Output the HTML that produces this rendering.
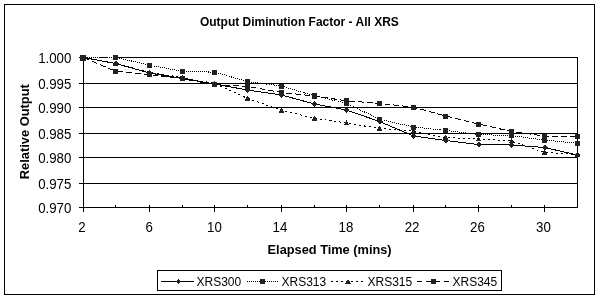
<!DOCTYPE html>
<html><head><meta charset="utf-8"><style>
html,body{margin:0;padding:0;background:#fff;}
svg{display:block;filter:grayscale(1);}
text{font-family:"Liberation Sans",sans-serif;fill:#000;}
.tk{font-size:14px;}
.lg{font-size:12px;}
.ttl{font-size:12px;font-weight:bold;}
.ax{font-size:13.33px;font-weight:bold;}
</style></head><body>
<svg width="600" height="299" viewBox="0 0 600 299">
<rect x="0" y="0" width="600" height="299" fill="#fff"/>
<rect x="4.5" y="4.5" width="590" height="290" fill="none" stroke="#000" stroke-width="1"/>
<g stroke="#000" stroke-width="1" shape-rendering="crispEdges">
<line x1="83" y1="57.5" x2="578" y2="57.5"/>
<line x1="83" y1="83.5" x2="578" y2="83.5"/>
<line x1="83" y1="107.5" x2="578" y2="107.5"/>
<line x1="83" y1="133.5" x2="578" y2="133.5"/>
<line x1="83" y1="157.5" x2="578" y2="157.5"/>
<line x1="83" y1="183.5" x2="578" y2="183.5"/>
<line x1="79" y1="207.5" x2="578" y2="207.5"/>
<line x1="83.5" y1="57" x2="83.5" y2="212"/>
<line x1="577.5" y1="57" x2="577.5" y2="208"/>
<line x1="79" y1="57.5" x2="83" y2="57.5"/>
<line x1="79" y1="83.5" x2="83" y2="83.5"/>
<line x1="79" y1="107.5" x2="83" y2="107.5"/>
<line x1="79" y1="133.5" x2="83" y2="133.5"/>
<line x1="79" y1="157.5" x2="83" y2="157.5"/>
<line x1="79" y1="183.5" x2="83" y2="183.5"/>
<line x1="83.5" y1="205" x2="83.5" y2="212"/>
<line x1="115.5" y1="205" x2="115.5" y2="207"/>
<line x1="149.5" y1="205" x2="149.5" y2="212"/>
<line x1="182.5" y1="205" x2="182.5" y2="207"/>
<line x1="214.5" y1="205" x2="214.5" y2="212"/>
<line x1="247.5" y1="205" x2="247.5" y2="207"/>
<line x1="281.5" y1="205" x2="281.5" y2="212"/>
<line x1="314.5" y1="205" x2="314.5" y2="207"/>
<line x1="346.5" y1="205" x2="346.5" y2="212"/>
<line x1="379.5" y1="205" x2="379.5" y2="207"/>
<line x1="413.5" y1="205" x2="413.5" y2="212"/>
<line x1="445.5" y1="205" x2="445.5" y2="207"/>
<line x1="478.5" y1="205" x2="478.5" y2="212"/>
<line x1="511.5" y1="205" x2="511.5" y2="207"/>
<line x1="544.5" y1="205" x2="544.5" y2="212"/>
<line x1="577.5" y1="205" x2="577.5" y2="207"/>
<rect x="86" y="57" width="13" height="1" fill="#fff" stroke="none"/><rect x="107" y="57" width="6" height="1" fill="#fff" stroke="none"/>
</g>
<g shape-rendering="crispEdges">
<rect x="80" y="55" width="6" height="6" fill="#222"/>
<polyline points="83.5,57.5 115.5,63.5 149.5,73.0 182.5,78.5 214.5,84.0 247.5,90.0 281.5,95.0 314.5,104.0 346.5,110.0 379.5,121.5 413.5,136.0 445.5,140.5 478.5,144.5 511.5,145.0 544.5,147.5 577.5,155.0" fill="none" stroke="#000" stroke-width="1"/>
<path d="M83.5,54.5 L86.5,57.5 L83.5,60.5 L80.5,57.5 Z" fill="#222"/>
<path d="M115.5,60.5 L118.5,63.5 L115.5,66.5 L112.5,63.5 Z" fill="#222"/>
<path d="M149.5,70 L152.5,73 L149.5,76 L146.5,73 Z" fill="#222"/>
<path d="M182.5,75.5 L185.5,78.5 L182.5,81.5 L179.5,78.5 Z" fill="#222"/>
<path d="M214.5,81 L217.5,84 L214.5,87 L211.5,84 Z" fill="#222"/>
<path d="M247.5,87 L250.5,90 L247.5,93 L244.5,90 Z" fill="#222"/>
<path d="M281.5,92 L284.5,95 L281.5,98 L278.5,95 Z" fill="#222"/>
<path d="M314.5,101 L317.5,104 L314.5,107 L311.5,104 Z" fill="#222"/>
<path d="M346.5,107 L349.5,110 L346.5,113 L343.5,110 Z" fill="#222"/>
<path d="M379.5,118.5 L382.5,121.5 L379.5,124.5 L376.5,121.5 Z" fill="#222"/>
<path d="M413.5,133 L416.5,136 L413.5,139 L410.5,136 Z" fill="#222"/>
<path d="M445.5,137.5 L448.5,140.5 L445.5,143.5 L442.5,140.5 Z" fill="#222"/>
<path d="M478.5,141.5 L481.5,144.5 L478.5,147.5 L475.5,144.5 Z" fill="#222"/>
<path d="M511.5,142 L514.5,145 L511.5,148 L508.5,145 Z" fill="#222"/>
<path d="M544.5,144.5 L547.5,147.5 L544.5,150.5 L541.5,147.5 Z" fill="#222"/>
<path d="M577.5,152 L580.5,155 L577.5,158 L574.5,155 Z" fill="#222"/>
<polyline points="83.5,57.5 115.5,57.2 149.5,65.3 182.5,71.2 214.5,72.2 247.5,81.5 281.5,86.0 314.5,95.8 346.5,103.3 379.5,119.2 413.5,127.0 445.5,130.4 478.5,134.5 511.5,135.7 544.5,140.0 577.5,143.3" fill="none" stroke="#000" stroke-width="1" stroke-dasharray="1,1"/>
<rect x="81.0" y="55.0" width="5" height="5" fill="#222"/>
<rect x="113.0" y="54.7" width="5" height="5" fill="#222"/>
<rect x="147.0" y="62.8" width="5" height="5" fill="#222"/>
<rect x="180.0" y="68.7" width="5" height="5" fill="#222"/>
<rect x="212.0" y="69.7" width="5" height="5" fill="#222"/>
<rect x="245.0" y="79.0" width="5" height="5" fill="#222"/>
<rect x="279.0" y="83.5" width="5" height="5" fill="#222"/>
<rect x="312.0" y="93.3" width="5" height="5" fill="#222"/>
<rect x="344.0" y="100.8" width="5" height="5" fill="#222"/>
<rect x="377.0" y="116.7" width="5" height="5" fill="#222"/>
<rect x="411.0" y="124.5" width="5" height="5" fill="#222"/>
<rect x="443.0" y="127.9" width="5" height="5" fill="#222"/>
<rect x="476.0" y="132.0" width="5" height="5" fill="#222"/>
<rect x="509.0" y="133.2" width="5" height="5" fill="#222"/>
<rect x="542.0" y="137.5" width="5" height="5" fill="#222"/>
<rect x="575.0" y="140.8" width="5" height="5" fill="#222"/>
<polyline points="83.5,57.5 115.5,63.5 149.5,72.5 182.5,77.5 214.5,83.5 247.5,98.3 281.5,110.3 314.5,118.3 346.5,123.0 379.5,128.5 413.5,131.0 445.5,137.5 478.5,139.0 511.5,141.0 544.5,152.5 577.5,154.5" fill="none" stroke="#000" stroke-width="1" stroke-dasharray="2,3"/>
<path d="M83.5,54.75 L86.5,59.75 L80.5,59.75 Z" fill="#222"/>
<path d="M115.5,60.75 L118.5,65.75 L112.5,65.75 Z" fill="#222"/>
<path d="M149.5,69.75 L152.5,74.75 L146.5,74.75 Z" fill="#222"/>
<path d="M182.5,74.75 L185.5,79.75 L179.5,79.75 Z" fill="#222"/>
<path d="M214.5,80.75 L217.5,85.75 L211.5,85.75 Z" fill="#222"/>
<path d="M247.5,95.55 L250.5,100.55 L244.5,100.55 Z" fill="#222"/>
<path d="M281.5,107.55 L284.5,112.55 L278.5,112.55 Z" fill="#222"/>
<path d="M314.5,115.55 L317.5,120.55 L311.5,120.55 Z" fill="#222"/>
<path d="M346.5,120.25 L349.5,125.25 L343.5,125.25 Z" fill="#222"/>
<path d="M379.5,125.75 L382.5,130.75 L376.5,130.75 Z" fill="#222"/>
<path d="M413.5,128.25 L416.5,133.25 L410.5,133.25 Z" fill="#222"/>
<path d="M445.5,134.75 L448.5,139.75 L442.5,139.75 Z" fill="#222"/>
<path d="M478.5,136.25 L481.5,141.25 L475.5,141.25 Z" fill="#222"/>
<path d="M511.5,138.25 L514.5,143.25 L508.5,143.25 Z" fill="#222"/>
<path d="M544.5,149.75 L547.5,154.75 L541.5,154.75 Z" fill="#222"/>
<path d="M577.5,151.75 L580.5,156.75 L574.5,156.75 Z" fill="#222"/>
<polyline points="83.5,57.5 115.5,71.2 149.5,74.5 182.5,78.8 214.5,84.5 247.5,86.5 281.5,92.5 314.5,96.0 346.5,100.8 379.5,103.4 413.5,107.2 445.5,116.0 478.5,124.0 511.5,131.5 544.5,136.0 577.5,136.8" fill="none" stroke="#000" stroke-width="1" stroke-dasharray="6,3"/>
<rect x="81.0" y="55.0" width="5" height="5" fill="#222"/>
<rect x="113.0" y="68.7" width="5" height="5" fill="#222"/>
<rect x="147.0" y="72.0" width="5" height="5" fill="#222"/>
<rect x="180.0" y="76.3" width="5" height="5" fill="#222"/>
<rect x="212.0" y="82.0" width="5" height="5" fill="#222"/>
<rect x="245.0" y="84.0" width="5" height="5" fill="#222"/>
<rect x="279.0" y="90.0" width="5" height="5" fill="#222"/>
<rect x="312.0" y="93.5" width="5" height="5" fill="#222"/>
<rect x="344.0" y="98.3" width="5" height="5" fill="#222"/>
<rect x="377.0" y="100.9" width="5" height="5" fill="#222"/>
<rect x="411.0" y="104.7" width="5" height="5" fill="#222"/>
<rect x="443.0" y="113.5" width="5" height="5" fill="#222"/>
<rect x="476.0" y="121.5" width="5" height="5" fill="#222"/>
<rect x="509.0" y="129.0" width="5" height="5" fill="#222"/>
<rect x="542.0" y="133.5" width="5" height="5" fill="#222"/>
<rect x="575.0" y="134.3" width="5" height="5" fill="#222"/>
</g>
<g class="tk">
<text transform="translate(71.4,63) scale(0.95,1)" text-anchor="end">1.000</text>
<text transform="translate(71.4,89) scale(0.95,1)" text-anchor="end">0.995</text>
<text transform="translate(71.4,113) scale(0.95,1)" text-anchor="end">0.990</text>
<text transform="translate(71.4,139) scale(0.95,1)" text-anchor="end">0.985</text>
<text transform="translate(71.4,163) scale(0.95,1)" text-anchor="end">0.980</text>
<text transform="translate(71.4,189) scale(0.95,1)" text-anchor="end">0.975</text>
<text transform="translate(71.4,213) scale(0.95,1)" text-anchor="end">0.970</text>
<text transform="translate(81.9,232) scale(0.95,1)" text-anchor="middle">2</text>
<text transform="translate(149.1,232) scale(0.95,1)" text-anchor="middle">6</text>
<text transform="translate(214.5,232) scale(0.95,1)" text-anchor="middle">10</text>
<text transform="translate(279.9,232) scale(0.95,1)" text-anchor="middle">14</text>
<text transform="translate(345.9,232) scale(0.95,1)" text-anchor="middle">18</text>
<text transform="translate(412.05,232) scale(0.95,1)" text-anchor="middle">22</text>
<text transform="translate(477.4,232) scale(0.95,1)" text-anchor="middle">26</text>
<text transform="translate(543.4,232) scale(0.95,1)" text-anchor="middle">30</text>
</g>
<text class="ttl" x="299.4" y="26" text-anchor="middle">Output Diminution Factor - All XRS</text>
<text class="ax" x="329.6" y="254" text-anchor="middle" textLength="124" lengthAdjust="spacingAndGlyphs">Elapsed Time (mins)</text>
<text class="ax" transform="translate(29,131.7) rotate(-90)" x="0" y="0" text-anchor="middle" textLength="95" lengthAdjust="spacingAndGlyphs">Relative Output</text>

<rect x="157.5" y="270.5" width="344" height="20" fill="#fff" stroke="#000"/>
<g shape-rendering="crispEdges">
<line x1="161" y1="281.5" x2="194" y2="281.5" stroke="#000"/>
<path d="M178.5,278.9 L181.1,281.5 L178.5,284.1 L175.9,281.5 Z" fill="#222"/>
<line x1="247" y1="281.5" x2="279" y2="281.5" stroke="#fff"/>
<line x1="247" y1="281.5" x2="279" y2="281.5" stroke="#000" stroke-dasharray="1,1"/>
<rect x="260.0" y="279.0" width="5" height="5" fill="#222"/>
<line x1="331" y1="281.5" x2="364" y2="281.5" stroke="#000" stroke-dasharray="2,3"/>
<path d="M348,278.75 L351.0,283.75 L345.0,283.75 Z" fill="#222"/>
<line x1="417" y1="281.5" x2="450" y2="281.5" stroke="#000" stroke-dasharray="5,4"/>
<rect x="431.0" y="279.0" width="5" height="5" fill="#222"/>
</g>
<text x="196.5" y="286" class="lg">XRS300</text>
<text x="281.5" y="286" class="lg">XRS313</text>
<text x="367.5" y="286" class="lg">XRS315</text>
<text x="452.5" y="286" class="lg">XRS345</text>

</svg>
</body></html>
